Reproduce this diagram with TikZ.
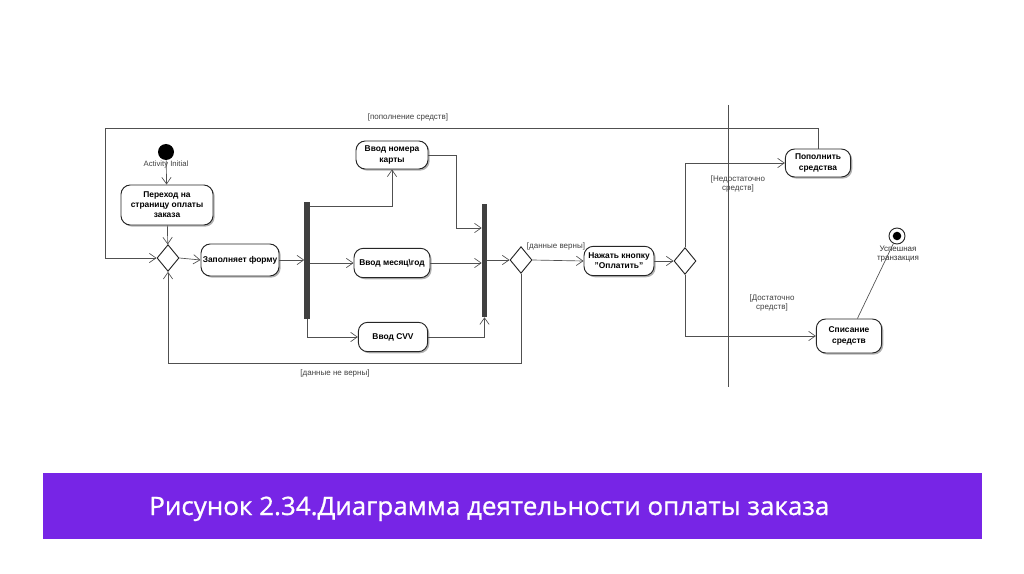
\documentclass[tikz,border=0pt]{standalone}
\usepackage{fontspec}
\setmainfont{Liberation Sans}
\newfontfamily\capfont[FakeBold=0.9]{Open Sans}
\usetikzlibrary{arrows.meta,shapes.geometric,shadows}
\definecolor{ln}{HTML}{505050}
\definecolor{banner}{RGB}{119,37,230}
\tikzset{
 act/.style={draw=black!85, line width=0.7pt, rounded corners=7pt, fill=white,
   font=\fontsize{6.3}{7.6}\selectfont\bfseries, align=center, inner sep=1pt,
   drop shadow={shadow xshift=1.2pt, shadow yshift=-1.2pt, opacity=0.3, fill=black}},
 dec/.style={draw=black!85, line width=0.7pt, diamond, fill=white,
   minimum width=16.5pt, minimum height=20pt, inner sep=0pt},
 forkbar/.style={fill=black!75, draw=none, minimum width=3.8pt, inner sep=0pt},
 flow/.style={draw=ln, line width=0.5pt, -{Straight Barb[length=5pt,width=7pt]}},
 plain/.style={draw=ln, line width=0.5pt},
 guard/.style={font=\fontsize{6}{7.2}\selectfont, text=black!75, align=center, inner sep=0pt},
}
\begin{document}
\begin{tikzpicture}[x=0.75pt,y=-0.75pt]
\useasboundingbox (0,0) rectangle (1024,574);
% swimlane line
\coordinate (lt) at (728,105);
\coordinate (lb) at (728,387);
\draw[plain] (lt) -- (lb);
% nodes
\node[circle, fill=black, inner sep=0pt, minimum size=12pt] (init) at (166,152) {};
\node[guard, font=\fontsize{5.8}{7}\selectfont] (initlbl) at (166,165) {Activity Initial};
\node[act, minimum width=69pt, minimum height=30pt] (perehod) at (167,205) {Переход на\\страницу оплаты\\заказа};
\node[dec] (d1) at (168,258) {};
\node[act, minimum width=58.5pt, minimum height=24pt] (zapoln) at (240,260) {Заполняет форму};
\node[forkbar, minimum height=87.75pt] (bar1) at (307,260.5) {};
\node[act, minimum width=54pt, minimum height=21pt] (karta) at (392,155) {Ввод номера\\карты};
\node[act, minimum width=57pt, minimum height=22pt] (month) at (392,263) {Ввод месяц\textbackslash год};
\node[act, minimum width=52pt, minimum height=22pt] (cvv) at (393,337) {Ввод CVV};
\node[forkbar, minimum height=84.75pt] (bar2) at (484.5,260.5) {};
\node[dec] (d2) at (521,260) {};
\node[act, minimum width=52.5pt, minimum height=22pt] (nazhat) at (619,261) {Нажать кнопку\\"Оплатить"};
\node[dec] (d3) at (685,261) {};
\node[act, minimum width=49pt, minimum height=21pt] (popoln) at (818,163) {Пополнить\\средства};
\node[act, minimum width=49pt, minimum height=25.5pt] (spis) at (849,336) {Списание\\средств};
\node[circle, draw=black!85, line width=0.7pt, fill=white, inner sep=0pt, minimum size=12pt] (final) at (897,236) {};
\fill[black] (final.center) circle (3.2pt);
\node[guard, text=black!80] (finlbl) at (898,254) {Успешная\\транзакция};
% guards
\node[guard] (g1) at (408,117) {[пополнение средств]};
\node[guard] (g2) at (335,373) {[данные не верны]};
\node[guard] (g3) at (556,246) {[данные верны]};
\node[guard] (g4) at (738,184) {[Недостаточно\\средств]};
\node[guard] (g5) at (772,303) {[Достаточно\\средств]};
% helper coordinates
\coordinate (k1) at (456,228);
\coordinate (lp) at (105,128);
% connectors
\draw[flow] (init) -- (perehod);
\draw[flow] (perehod) -- (d1);
\draw[flow] (d1.east) -- (zapoln.west);
\draw[flow] (zapoln.east) -- (zapoln.east -| bar1.west);
\draw[flow] (bar1.east |- 0,206) -| (karta.south);
\draw[flow] (bar1.east |- month.west) -- (month.west);
\draw[flow] (bar1.south) |- (cvv.west);
\draw[flow] (karta.east) -| (k1) -- (k1 -| bar2.west);
\draw[flow] (month.east) -- (month.east -| bar2.west);
\draw[flow] (cvv.east) -| (bar2.south);
\draw[flow] (d2.west -| bar2.east) -- (d2.west);
\draw[flow] (d2.south) -- (d2.south |- 0,363) -| (d1.south);
\draw[flow] (d2.east) -- (nazhat.west);
\draw[flow] (nazhat.east) -- (d3.west);
\draw[flow] (d3.north) |- (popoln.west);
\draw[flow] (d3.south) |- (spis.west);
\draw[flow] (popoln.north) |- (lp) |- (d1.west);
\draw[plain] (spis) -- (final);
% caption banner
\fill[banner] (43,473) rectangle (982,539);
\node[anchor=base west, text=white, inner sep=0pt, font=\capfont\fontsize{19}{22}\selectfont] (cap) at (149,515) {\resizebox{510pt}{\height}{Рисунок 2.34.Диаграмма деятельности оплаты заказа}};
\end{tikzpicture}
\end{document}
